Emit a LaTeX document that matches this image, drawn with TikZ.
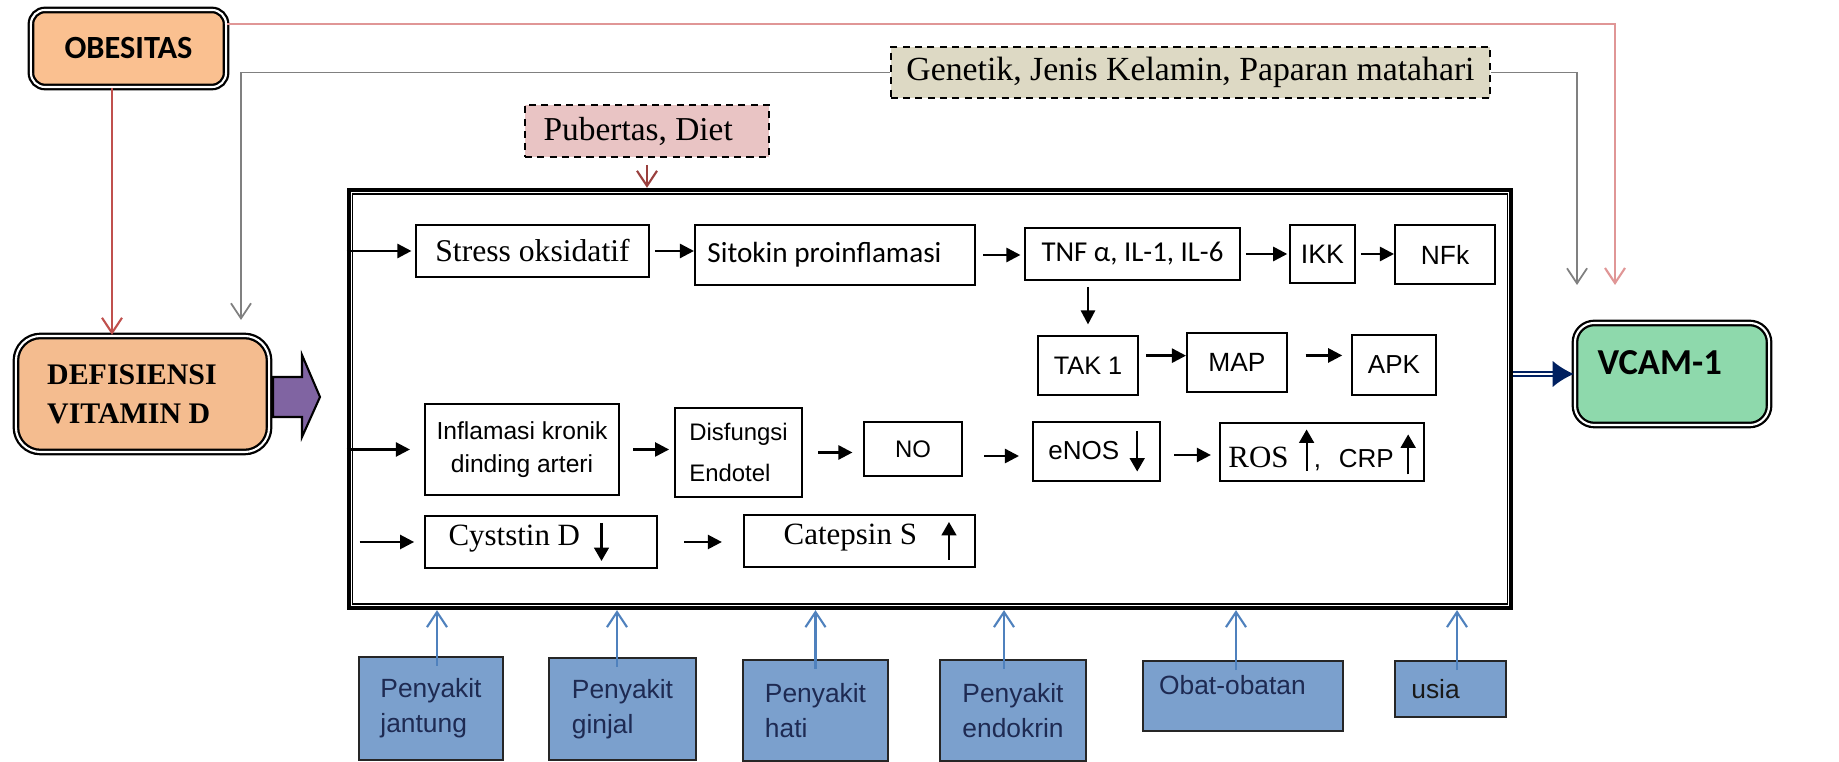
\documentclass[tikz,border=0pt]{standalone}
\usepackage{fontspec}
\setmainfont{Liberation Serif}
\newfontfamily\arialf{Liberation Sans}
\newfontfamily\calf{Carlito}
\usetikzlibrary{arrows.meta}

\definecolor{obesfill}{RGB}{250,192,144}
\definecolor{defifill}{RGB}{244,188,143}
\definecolor{vcamfill}{RGB}{142,217,172}
\definecolor{genfill}{RGB}{221,217,196}
\definecolor{pubfill}{RGB}{233,196,196}
\definecolor{sickfill}{RGB}{123,160,205}
\definecolor{sicktext}{RGB}{30,42,82}
\definecolor{redln}{RGB}{192,80,77}
\definecolor{pinkln}{RGB}{224,150,150}
\definecolor{grayln}{RGB}{128,128,128}
\definecolor{blueln}{RGB}{79,129,189}
\definecolor{navyln}{RGB}{0,32,96}
\definecolor{purplefill}{RGB}{128,100,162}

\newcommand\fsz[2]{\fontsize{#1}{#2}\selectfont}
\newcommand\stemarr[2]{\tikz[baseline=0pt]\draw[line width=0.6pt,-{Triangle[length=3.8pt,width=4.2pt]}] (0,#1) -- (0,#2);}

\begin{document}
\begin{tikzpicture}[x=0.01cm, y=-0.01cm, >={Triangle[length=4pt,width=4pt]},
  procbox/.style={draw, line width=0.55pt, fill=white, inner sep=0pt},
  roundbox/.style={draw, line width=0.65pt, double=white, double distance=0.6pt, inner sep=0pt},
  dashbox/.style={draw, line width=0.55pt, dash pattern=on 2pt off 1.5pt, inner sep=0pt},
  sickbox/.style={draw=black!85, line width=0.55pt, fill=sickfill, text=sicktext, align=left, inner sep=0pt, font=\arialf\fsz{7.5}{10}},
  arr/.style={->, line width=0.7pt},
  thinarr/.style={-{Straight Barb[length=4.3pt,width=5.7pt]}, line width=0.6pt}]
\useasboundingbox (0,0) rectangle (1839,762);

\node[roundbox, rounded corners=4pt, fill=obesfill, minimum width=1.95cm, minimum height=0.77cm, font=\calf\bfseries\fsz{9.2}{11}] (obes) at (128.5,48.5) {OBESITAS};
\node[roundbox, rounded corners=7pt, fill=defifill, minimum width=2.53cm, minimum height=1.16cm, align=left, font=\bfseries\fsz{8.5}{11.1}] (defi) at (142.5,394) {DEFISIENSI\hspace*{6pt}\\VITAMIN D};
\node[roundbox, rounded corners=5.5pt, fill=vcamfill, minimum width=1.94cm, minimum height=1.02cm, text depth=6.5pt, font=\calf\bfseries\fsz{10.4}{12}] (vcam) at (1672,374) {VCAM-1\hspace*{7pt}};
\node[dashbox, fill=genfill, minimum width=5.99cm, minimum height=0.51cm, font=\fsz{9.6}{11}] (gen) at (1190.5,72.5) {Genetik, Jenis Kelamin, Paparan matahari};
\node[dashbox, fill=pubfill, minimum width=2.44cm, minimum height=0.52cm, font=\fsz{9.5}{11}] (pub) at (647,131) {Pubertas, Diet\hspace*{5pt}};

\node[draw, line width=1.15pt, minimum width=11.62cm, minimum height=4.18cm, inner sep=0pt] (frame) at (930,399) {};
\draw[line width=0.4pt] ([shift={(6,6)}]frame.north west) rectangle ([shift={(-6,-6)}]frame.south east);

\node[procbox, minimum width=2.33cm, minimum height=0.52cm, font=\fsz{9}{11}] (stress) at (532.5,251) {Stress oksidatif};
\node[procbox, minimum width=2.80cm, minimum height=0.60cm, font=\calf\fsz{8.3}{10}] (sitokin) at (835,255) {Sitokin proinflamasi\hspace*{6pt}};
\node[procbox, minimum width=2.15cm, minimum height=0.52cm, font=\calf\fsz{8.2}{10}] (tnf) at (1132.5,254) {TNF α, IL-1, IL-6};
\node[procbox, minimum width=0.65cm, minimum height=0.58cm, font=\arialf\fsz{7.6}{9}] (ikk) at (1322.5,254) {IKK};
\node[procbox, minimum width=1.00cm, minimum height=0.59cm, font=\arialf\fsz{7.5}{9}] (nfk) at (1445,254.5) {NFk};
\node[procbox, minimum width=1.00cm, minimum height=0.59cm, font=\arialf\fsz{7.2}{9}] (tak) at (1088,365.5) {TAK 1};
\node[procbox, minimum width=1.00cm, minimum height=0.59cm, font=\arialf\fsz{7.5}{9}] (map) at (1237,362.5) {MAP};
\node[procbox, minimum width=0.84cm, minimum height=0.60cm, font=\arialf\fsz{7.4}{9}] (apk) at (1394,365) {APK};

\node[procbox, minimum width=1.94cm, minimum height=0.91cm, align=center, font=\arialf\fsz{7}{9.2}] (inflam) at (522,449.5) {Inflamasi kronik\\dinding arteri};
\node[procbox, minimum width=1.27cm, minimum height=0.89cm, align=left, font=\arialf\fsz{6.8}{11.6}] (disf) at (738.5,452.5) {Disfungsi\\Endotel};
\node[procbox, minimum width=0.98cm, minimum height=0.54cm, font=\arialf\fsz{6.8}{9}] (no) at (913,449) {NO};
\node[procbox, minimum width=1.27cm, minimum height=0.59cm, font=\arialf\fsz{7.4}{9}] (enos) at (1096.5,451.5) {eNOS\hspace{3pt}\stemarr{8pt}{-3.4pt}};
\node[procbox, minimum width=2.04cm, minimum height=0.58cm, font=\fsz{8.8}{10}] (ros) at (1322,452) {ROS\hspace{3pt}\stemarr{-1pt}{10.8pt}{\arialf\fsz{7.4}{9},\hspace{5pt}CRP}\hspace{2pt}\stemarr{-2pt}{9.4pt}};

\node[procbox, minimum width=2.32cm, minimum height=0.52cm, font=\fsz{8.8}{10}] (cyst) at (541,542) {Cyststin D\hspace{4pt}\stemarr{6.5pt}{-4.3pt}\hspace*{7pt}};
\node[procbox, minimum width=2.31cm, minimum height=0.52cm, font=\fsz{8.8}{10}] (catep) at (859.5,541) {\hspace*{6pt}Catepsin S\hspace{7pt}\stemarr{-4.3pt}{6.5pt}};

\node[sickbox, minimum width=1.44cm, minimum height=1.03cm] (jantung) at (431,708.5) {Penyakit\\jantung};
\node[sickbox, minimum width=1.47cm, minimum height=1.02cm] (ginjal) at (622.5,709) {Penyakit\\ginjal};
\node[sickbox, minimum width=1.45cm, minimum height=1.01cm] (hati) at (815.5,710.5) {Penyakit\\hati};
\node[sickbox, minimum width=1.46cm, minimum height=1.01cm] (endokrin) at (1013,710.5) {Penyakit\\endokrin};
\node[sickbox, minimum width=2.00cm, minimum height=0.70cm, text depth=6pt] (obat) at (1243,696) {Obat-obatan\hspace*{6pt}};
\node[sickbox, minimum width=1.11cm, minimum height=0.56cm, text=black!90] (usia) at (1450.5,689) {usia\hspace*{8.5pt}};

\draw[line width=0.6pt, fill=purplefill] (273,377) -- (302,377) -- (302,355) -- (320,397) -- (302,437) -- (302,417) -- (273,417) -- cycle;

\coordinate (redx) at (112,0);
\coordinate (grayL) at (241,320);
\coordinate (grayR) at (1577,285);
\coordinate (pinkR) at (1615,285);
\draw[thinarr, redln] (obes.south -| redx) -- (defi.north -| redx);
\draw[thinarr, grayln, line width=0.5pt] (gen.west) -| (grayL);
\draw[thinarr, grayln, line width=0.5pt] (gen.east) -| (grayR);
\draw[thinarr, pinkln] ([yshift=7pt]obes.east) -| (pinkR);
\draw[thinarr, redln!80!black, shorten <=2pt] (pub.south) -- (pub.south |- frame.north);
\draw[navyln, line width=0.5pt, double=white, double distance=0.8pt, -{Latex[length=6pt,width=7.5pt]}] (vcam.west -| frame.east) -- (vcam.west);

\draw[arr, shorten >=1pt] (stress.west -| frame.west) -- (stress.west);
\draw[arr, shorten <=1.4pt] (stress.east) -- (stress.east -| sitokin.west);
\draw[arr, shorten <=2pt, shorten >=1pt] (sitokin.east) -- (sitokin.east -| tnf.west);
\draw[arr, shorten <=1.4pt, shorten >=0.5pt] (tnf.east) -- (tnf.east -| ikk.west);
\draw[arr, shorten <=1.4pt] (ikk.east) -- (ikk.east -| nfk.west);
\draw[arr, shorten <=1.7pt, shorten >=3pt] (tak.north |- tnf.south) -- (tak.north);
\draw[arr, shorten <=2pt] ([yshift=2.8pt]tak.east) -- ([yshift=2.8pt]tak.east -| map.west);
\draw[arr, shorten <=5pt, shorten >=2.5pt] ([yshift=2pt]map.east) -- ([yshift=2pt]map.east -| apk.west);

\draw[arr, shorten >=4pt] (inflam.west -| frame.west) -- (inflam.west);
\draw[arr, shorten <=3.7pt, shorten >=1.4pt] (inflam.east) -- (inflam.east -| disf.west);
\draw[arr, shorten <=4.3pt, shorten >=3pt] (disf.east) -- (disf.east -| no.west);
\draw[arr, shorten <=6pt, shorten >=3.7pt] ([yshift=-2pt]no.east) -- ([yshift=-2pt]no.east -| enos.west);
\draw[arr, shorten <=3.7pt, shorten >=2.3pt] ([yshift=-1pt]enos.east) -- ([yshift=-1pt]enos.east -| ros.west);

\draw[arr, shorten <=3.7pt, shorten >=2.8pt] (cyst.west -| frame.west) -- (cyst.west);
\draw[arr, shorten <=7.4pt, shorten >=6pt] (cyst.east) -- (cyst.east -| catep.west);

\foreach \b/\dx in {jantung/6, ginjal/-5.5, hati/0, endokrin/-9, obat/-7, usia/6.5} {
  \coordinate (t\b) at ([shift={(\dx,10)}]\b.north);
  \draw[thinarr, blueln] (t\b) -- (t\b |- frame.south);
}
\end{tikzpicture}
\end{document}
